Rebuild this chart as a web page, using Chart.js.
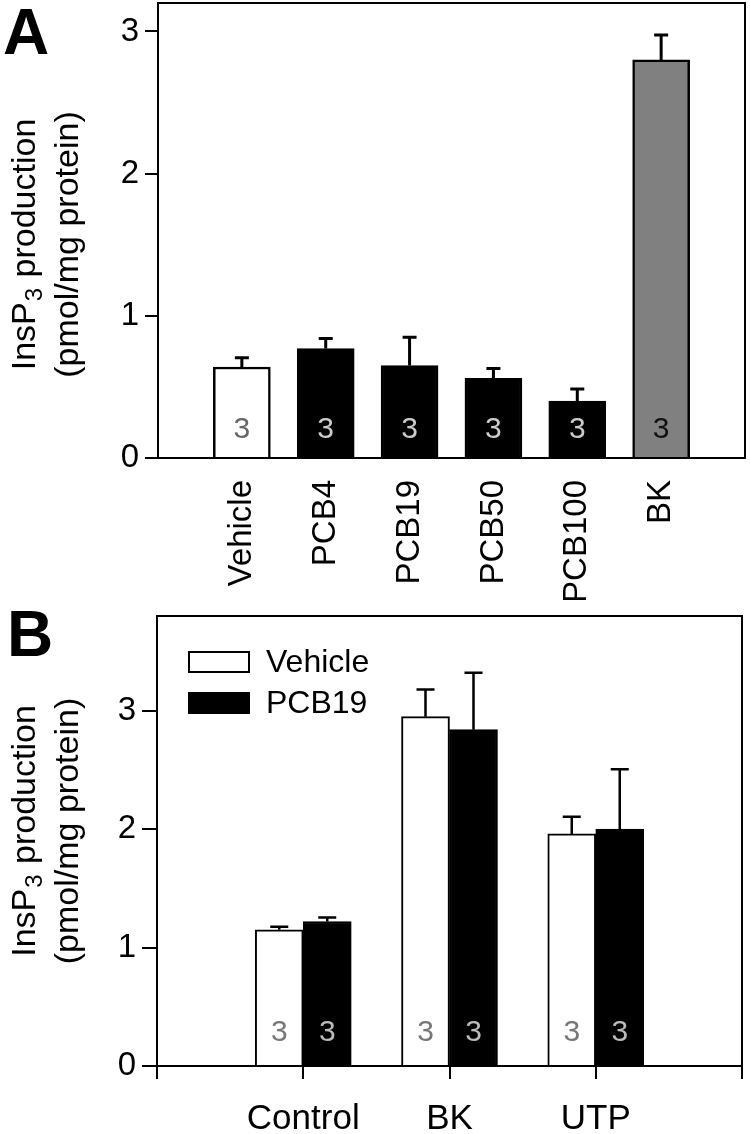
<!DOCTYPE html>
<html lang="en">
<head>
<meta charset="UTF-8" />
<title>InsP3 production</title>
<script src="https://cdn.jsdelivr.net/npm/chart.js"></script>
<style>
  body { margin: 0; background: #fff; }
  #wrap { position: relative; width: 750px; height: 1134px; }
  canvas { position: absolute; left: 0; }
  #chartA { top: 0; }
  #chartB { top: 600px; }
</style>
</head>
<body>
<div id="wrap">
  <canvas id="chartA" width="750" height="600"></canvas>
  <canvas id="chartB" width="750" height="534"></canvas>
</div>
<script>
// panel A data
const groupsA = ["Vehicle", "PCB4", "PCB19", "PCB50", "PCB100", "BK"];
const meansA = [0.64, 0.77, 0.65, 0.56, 0.40, 2.80];
const semA = [0.065, 0.07, 0.2, 0.07, 0.085, 0.175];
const nA = [3, 3, 3, 3, 3, 3];
const fillA = ["#ffffff", "#000000", "#000000", "#000000", "#000000", "#808080"];
const nColourA = ["#666666", "#cccccc", "#cccccc", "#cccccc", "#cccccc", "#111111"];

// panel B data
const groupsB = ["Control", "BK", "UTP"];
const vehicleB = [1.15, 2.95, 1.96];
const vehicleSemB = [0.025, 0.23, 0.145];
const pcb19B = [1.22, 2.84, 2.0];
const pcb19SemB = [0.035, 0.48, 0.505];
const nB = [3, 3, 3];

const yTicks = [0, 1, 2, 3];

const FONT = "'Liberation Sans', Arial, sans-serif";
Chart.defaults.font.family = FONT;
Chart.defaults.color = "#000";

// empty slot at both ends of the category axis
const pad = (arr, fill) => [fill, ...arr, fill];

// error bars (mean + SEM, upper only)
const errorBars = {
  id: "errorBars",
  afterDatasetsDraw(chart, args, opts) {
    const { ctx } = chart;
    const y = chart.scales.y;
    chart.data.datasets.forEach((ds, i) => {
      chart.getDatasetMeta(i).data.forEach((bar, j) => {
        const v = ds.data[j];
        if (v == null) return;
        const y0 = y.getPixelForValue(v);
        const y1 = y.getPixelForValue(v + ds.errors[j]);
        ctx.save();
        ctx.strokeStyle = "#000";
        ctx.lineWidth = opts.width;
        ctx.beginPath();
        ctx.moveTo(bar.x, y0);
        ctx.lineTo(bar.x, y1);
        ctx.moveTo(bar.x - opts.cap / 2, y1);
        ctx.lineTo(bar.x + opts.cap / 2, y1);
        ctx.stroke();
        ctx.restore();
      });
    });
  }
};

// n numbers inside the bars
const countLabels = {
  id: "countLabels",
  afterDatasetsDraw(chart, args, opts) {
    const { ctx } = chart;
    const base = chart.scales.y.getPixelForValue(0);
    chart.data.datasets.forEach((ds, i) => {
      chart.getDatasetMeta(i).data.forEach((bar, j) => {
        if (ds.counts[j] == null) return;
        ctx.save();
        ctx.font = opts.size + "px " + FONT;
        ctx.fillStyle = Array.isArray(ds.countColour) ? ds.countColour[j] : ds.countColour;
        ctx.textAlign = "center";
        ctx.textBaseline = "middle";
        ctx.fillText(String(ds.counts[j]), bar.x, base - opts.offset);
        ctx.restore();
      });
    });
  }
};

// box round the plot, panel letter and y title with a real subscript
const frame = {
  id: "frame",
  afterDraw(chart, args, opts) {
    const { ctx, chartArea: a } = chart;
    ctx.save();
    ctx.strokeStyle = "#000";
    ctx.lineWidth = 2;
    ctx.strokeRect(a.left, a.top, a.right - a.left, a.bottom - a.top);

    ctx.font = "bold 64px " + FONT;
    ctx.fillStyle = "#000";
    ctx.textBaseline = "alphabetic";
    ctx.fillText(opts.letter, opts.letterX, opts.letterY);

    const big = "34px " + FONT;
    const small = "24px " + FONT;
    const gap = 1;
    const cy = (a.top + a.bottom) / 2 + opts.titleDy;
    ctx.translate(0, cy);
    ctx.rotate(-Math.PI / 2);
    ctx.textBaseline = "middle";
    ctx.textAlign = "left";
    ctx.font = big;
    const w1 = ctx.measureText("InsP").width;
    const w3 = ctx.measureText(" production").width;
    ctx.font = small;
    const w2 = ctx.measureText("3").width + 2 * gap;
    const x0 = -(w1 + w2 + w3) / 2;
    ctx.font = big;
    ctx.fillText("InsP", x0, 26);
    ctx.font = small;
    ctx.fillText("3", x0 + w1 + gap, 35);
    ctx.font = big;
    ctx.fillText(" production", x0 + w1 + w2, 26);
    ctx.textAlign = "center";
    ctx.fillText("(pmol/mg protein)", 0, 69);
    ctx.restore();
  }
};

// legend in the top left of panel B
const boxLegend = {
  id: "boxLegend",
  afterDraw(chart, args, opts) {
    const { ctx } = chart;
    ctx.save();
    chart.data.datasets.forEach((ds, i) => {
      const y = opts.y + i * opts.step;
      ctx.fillStyle = ds.backgroundColor;
      ctx.fillRect(opts.x, y - 11, 62, 22);
      ctx.strokeStyle = ds.borderColor;
      ctx.lineWidth = 2;
      ctx.strokeRect(opts.x + 1, y - 10, 60, 20);
      ctx.fillStyle = "#000";
      ctx.font = "32px " + FONT;
      ctx.textBaseline = "middle";
      ctx.fillText(ds.label, opts.x + 78, y + 1);
    });
    ctx.restore();
  }
};

function yAxis(max, width, tickLen) {
  return {
    min: 0,
    max: max,
    afterBuildTicks: s => { s.ticks = yTicks.map(v => ({ value: v })); },
    afterFit: s => { s.width = width; s.paddingTop = 0; s.paddingBottom = 0; },
    ticks: { color: "#000", font: { size: 33 }, padding: 6 },
    grid: { drawOnChartArea: false, drawTicks: true, tickLength: tickLen, tickColor: "#000", lineWidth: 2 },
    border: { display: true, color: "#000", width: 2 }
  };
}

new Chart(document.getElementById("chartA"), {
  type: "bar",
  data: {
    labels: pad(groupsA, ""),
    datasets: [{
      label: "InsP3",
      data: pad(meansA, null),
      errors: pad(semA, null),
      counts: pad(nA, null),
      countColour: pad(nColourA, null),
      backgroundColor: pad(fillA, null),
      borderColor: "#000",
      borderWidth: 2.5,
      barThickness: 57
    }]
  },
  plugins: [errorBars, countLabels, frame],
  options: {
    responsive: false,
    animation: false,
    layout: { padding: { top: 3, right: 5, left: 0, bottom: 0 } },
    plugins: {
      legend: { display: false },
      tooltip: { enabled: false },
      errorBars: { width: 3, cap: 14 },
      countLabels: { size: 30, offset: 28 },
      frame: { letter: "A", letterX: 3, letterY: 54, titleDy: 14 }
    },
    scales: {
      x: {
        offset: false,
        grid: { display: false, drawTicks: false, offset: false },
        border: { display: true, color: "#000", width: 2 },
        ticks: { color: "#000", font: { size: 33 }, minRotation: 90, maxRotation: 90, autoSkip: false, padding: 22 },
        afterFit: s => { s.height = 142; s.paddingLeft = 0; s.paddingRight = 0; }
      },
      y: yAxis(3.2, 158, 13)
    }
  }
});

new Chart(document.getElementById("chartB"), {
  type: "bar",
  data: {
    labels: pad(groupsB, ""),
    datasets: [
      {
        label: "Vehicle",
        data: pad(vehicleB, null),
        errors: pad(vehicleSemB, null),
        counts: pad(nB, null),
        countColour: "#777777",
        backgroundColor: "#ffffff",
        borderColor: "#000",
        borderWidth: 2,
        barThickness: 48
      },
      {
        label: "PCB19",
        data: pad(pcb19B, null),
        errors: pad(pcb19SemB, null),
        counts: pad(nB, null),
        countColour: "#bbbbbb",
        backgroundColor: "#000000",
        borderColor: "#000",
        borderWidth: 2,
        barThickness: 48
      }
    ]
  },
  plugins: [errorBars, countLabels, frame, boxLegend],
  options: {
    responsive: false,
    animation: false,
    layout: { padding: { top: 16, right: 8, left: 0, bottom: 0 } },
    plugins: {
      legend: { display: false },
      tooltip: { enabled: false },
      errorBars: { width: 2.5, cap: 18 },
      countLabels: { size: 30, offset: 33 },
      frame: { letter: "B", letterX: 7, letterY: 56, titleDy: -10 },
      boxLegend: { x: 188, y: 62, step: 41 }
    },
    scales: {
      x: {
        offset: false,
        grid: { display: true, drawOnChartArea: false, drawTicks: true, tickLength: 13, tickColor: "#000", lineWidth: 2, offset: false },
        border: { display: true, color: "#000", width: 2 },
        ticks: { color: "#000", font: { size: 35 }, maxRotation: 0, autoSkip: false, padding: 19 },
        afterFit: s => { s.height = 68; s.paddingLeft = 0; s.paddingRight = 0; }
      },
      y: yAxis(3.8, 157, 15)
    }
  }
});
</script>
</body>
</html>
